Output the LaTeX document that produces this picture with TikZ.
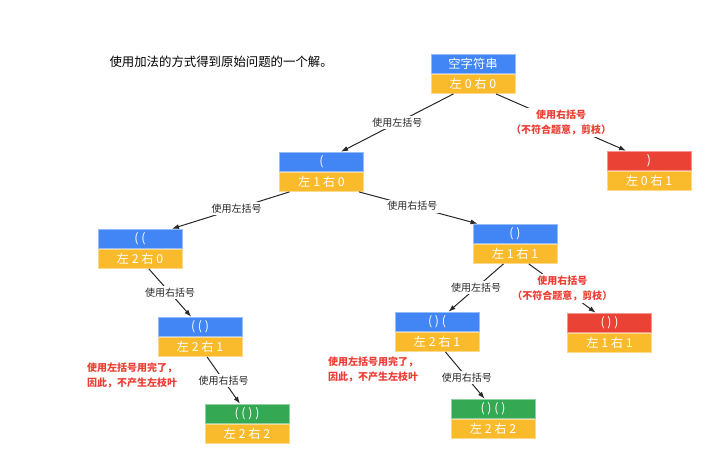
\documentclass[tikz,border=0pt]{standalone}
\usepackage{fontspec}
\usepackage{xcolor}
\usepackage{tikz}
\usetikzlibrary{arrows.meta,positioning}
\setmainfont{Noto Sans CJK SC}
\definecolor{trBlue}{RGB}{66,133,244}
\definecolor{trYellow}{RGB}{249,186,44}
\definecolor{trRed}{RGB}{234,67,53}
\definecolor{trGreen}{RGB}{52,168,83}
\definecolor{trLine}{RGB}{40,40,40}
\definecolor{trNote}{RGB}{236,62,52}

\begin{document}
\begin{tikzpicture}[
  x=1pt, y=-1pt,
  blk/.style={minimum width=84pt, minimum height=19.5pt, inner sep=0pt, text=white, line width=0.6pt, font=\fontsize{12.3}{14}\selectfont},
  seq/.style={blk, fill=trBlue, draw=trBlue!55!white},
  seqok/.style={blk, fill=trGreen, draw=trGreen!55!white},
  seqcut/.style={blk, fill=trRed, draw=trRed!55!white},
  cnt/.style={blk, fill=trYellow, draw=trYellow!55!white, below=0pt of #1},
  arr/.style={-{Latex[length=7pt, width=5pt]}, line width=1pt, draw=trLine},
  lbl/.style={fill=white, inner sep=2pt, text=trLine, font=\fontsize{10}{12}\selectfont},
  cutlbl/.style={fill=white, inner sep=2pt, align=center, text=trNote, font=\fontsize{10}{15}\bfseries\selectfont},
  note/.style={align=left, inner sep=0pt, text=trNote, font=\fontsize{10}{15}\bfseries\selectfont}
]
\fill[white] (0,0) rectangle (708,465);
\useasboundingbox (0,0) rectangle (708,465);

\node[anchor=west, font=\fontsize{12.4}{14}\selectfont] (title) at (106,62) {使用加法的方式得到原始问题的一个解。};

% tree nodes
\node[seq] (root) at (473,63.75) {空字符串};
\node[cnt=root] (rootc) {左 0 右 0};
\node[seq] (l) at (321.5,161.75) {(};
\node[cnt=l] (lc) {左 1 右 0};
\node[seqcut] (r) at (649,160.75) {)};
\node[cnt=r] (rc) {左 0 右 1};
\node[seq] (ll) at (140,238.75) {( (};
\node[cnt=ll] (llc) {左 2 右 0};
\node[seq] (lr) at (515,233.75) {( )};
\node[cnt=lr] (lrc) {左 1 右 1};
\node[seq] (llr) at (200,326.75) {( ( )};
\node[cnt=llr] (llrc) {左 2 右 1};
\node[seqok] (llrr) at (247,413.75) {( ( ) )};
\node[cnt=llrr] (llrrc) {左 2 右 2};
\node[seq] (lrl) at (437,321.75) {( ) (};
\node[cnt=lrl] (lrlc) {左 2 右 1};
\node[seqcut] (lrr) at (609.5,322.75) {( ) )};
\node[cnt=lrr] (lrrc) {左 1 右 1};
\node[seqok] (lrlr) at (493,408.75) {( ) ( )};
\node[cnt=lrlr] (lrlrc) {左 2 右 2};

% notes
\node[note, anchor=west] (note1) at (87,375) {使用左括号用完了，\\因此，不产生左枝叶};
\node[note, anchor=west] (note2) at (328,369.5) {使用左括号用完了，\\因此，不产生左枝叶};

% edges
\draw[arr] (rootc) -- node[lbl] {使用左括号} (l);
\draw[arr] (rootc) -- node[cutlbl] {使用右括号\\（不符合题意，剪枝）} (r);
\draw[arr] (lc) -- node[lbl, pos=0.45] {使用左括号} (ll);
\draw[arr] (lc) -- node[lbl, pos=0.45] {使用右括号} (lr);
\draw[arr] (llc) -- node[lbl] {使用右括号} (llr);
\draw[arr] (lrc) -- node[lbl] {使用左括号} (lrl);
\draw[arr] (lrc) -- node[cutlbl] {使用右括号\\（不符合题意，剪枝）} (lrr);
\draw[arr] (llrc) -- node[lbl] {使用右括号} (llrr);
\draw[arr] (lrlc) -- node[lbl, pos=0.55] {使用右括号} (lrlr);
\end{tikzpicture}
\end{document}
